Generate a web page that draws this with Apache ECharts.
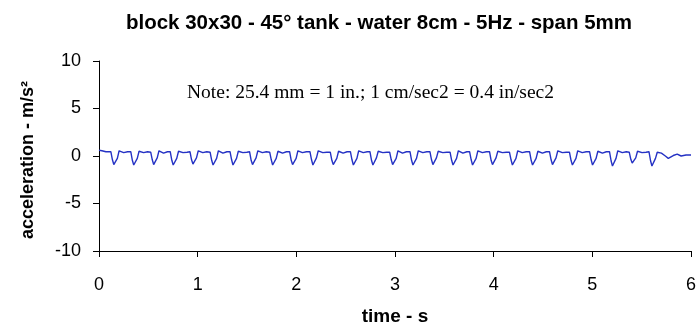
<!DOCTYPE html>
<html>
<head>
<meta charset="utf-8">
<script src="https://cdn.jsdelivr.net/npm/echarts@6/dist/echarts.min.js"></script>
<style>
  html, body { margin: 0; padding: 0; background: #fff; }
  #chart { width: 700px; height: 331px; }
</style>
</head>
<body>
<div id="chart"></div>
<script>
// Chart text
const titleText = 'block 30x30 - 45\u00b0 tank - water 8cm - 5Hz - span 5mm';
const noteText = 'Note: 25.4 mm = 1 in.; 1 cm/sec2 = 0.4 in/sec2';
const xAxisTitle = 'time - s';
const yAxisTitle = 'acceleration - m/s\u00b2';

// Axis ticks
const xTicks = [0, 1, 2, 3, 4, 5, 6];
const yTicks = [-10, -5, 0, 5, 10];

// Measured signal: time (s), one row per oscillation cycle
const time = [
  0.000, 0.030, 0.070,
  0.120, 0.136, 0.150, 0.170, 0.186, 0.204, 0.250, 0.290,
  0.322, 0.338, 0.352, 0.372, 0.388, 0.406, 0.452, 0.492,
  0.524, 0.540, 0.554, 0.574, 0.590, 0.608, 0.654, 0.694,
  0.722, 0.738, 0.752, 0.772, 0.788, 0.806, 0.852, 0.892,
  0.922, 0.938, 0.952, 0.972, 0.988, 1.006, 1.052, 1.092,
  1.126, 1.142, 1.156, 1.176, 1.192, 1.210, 1.256, 1.296,
  1.328, 1.344, 1.358, 1.378, 1.394, 1.412, 1.458, 1.498,
  1.526, 1.542, 1.556, 1.576, 1.592, 1.610, 1.656, 1.696,
  1.730, 1.746, 1.760, 1.780, 1.796, 1.814, 1.860, 1.900,
  1.932, 1.948, 1.962, 1.982, 1.998, 2.016, 2.062, 2.102,
  2.138, 2.154, 2.168, 2.188, 2.204, 2.222, 2.268, 2.308,
  2.344, 2.360, 2.374, 2.394, 2.410, 2.428, 2.474, 2.514,
  2.548, 2.564, 2.578, 2.598, 2.614, 2.632, 2.678, 2.718,
  2.746, 2.762, 2.776, 2.796, 2.812, 2.830, 2.876, 2.916,
  2.946, 2.962, 2.976, 2.996, 3.012, 3.030, 3.076, 3.116,
  3.152, 3.168, 3.182, 3.202, 3.218, 3.236, 3.282, 3.322,
  3.354, 3.370, 3.384, 3.404, 3.420, 3.438, 3.484, 3.524,
  3.558, 3.574, 3.588, 3.608, 3.624, 3.642, 3.688, 3.728,
  3.756, 3.772, 3.786, 3.806, 3.822, 3.840, 3.886, 3.926,
  3.958, 3.974, 3.988, 4.008, 4.024, 4.042, 4.088, 4.128,
  4.160, 4.176, 4.190, 4.210, 4.226, 4.244, 4.290, 4.330,
  4.364, 4.380, 4.394, 4.414, 4.430, 4.448, 4.494, 4.534,
  4.566, 4.582, 4.596, 4.616, 4.632, 4.650, 4.696, 4.736,
  4.768, 4.784, 4.798, 4.818, 4.834, 4.852, 4.898, 4.938,
  4.972, 4.988, 5.002, 5.022, 5.038, 5.056, 5.102, 5.142,
  5.174, 5.190, 5.204, 5.224, 5.240, 5.258, 5.304, 5.344,
  5.374, 5.390, 5.404, 5.424, 5.440, 5.458, 5.504, 5.544,
  5.574, 5.590, 5.604, 5.624, 5.640, 5.658,
  5.700, 5.740, 5.770, 5.820, 5.860, 5.900, 5.950, 6.000
];

// Measured signal: acceleration (m/s²), same rows as time
const accel = [
  0.60, 0.55, 0.45,
  0.45, -0.40, -0.90, -0.90, -0.25, 0.55, 0.35, 0.45,
  0.45, -0.45, -0.95, -0.90, -0.25, 0.50, 0.35, 0.45,
  0.40, -0.40, -0.90, -0.95, -0.20, 0.55, 0.30, 0.45,
  0.45, -0.45, -0.95, -0.90, -0.25, 0.50, 0.35, 0.40,
  0.45, -0.40, -0.85, -0.90, -0.20, 0.55, 0.35, 0.45,
  0.40, -0.45, -0.95, -0.95, -0.25, 0.55, 0.30, 0.45,
  0.45, -0.40, -0.95, -0.90, -0.25, 0.50, 0.35, 0.40,
  0.45, -0.45, -0.90, -0.95, -0.20, 0.55, 0.35, 0.45,
  0.40, -0.40, -0.95, -0.95, -0.25, 0.50, 0.30, 0.45,
  0.45, -0.45, -0.90, -0.90, -0.25, 0.55, 0.35, 0.45,
  0.45, -0.40, -0.95, -0.95, -0.20, 0.55, 0.35, 0.40,
  0.40, -0.45, -0.90, -0.95, -0.25, 0.50, 0.30, 0.45,
  0.45, -0.40, -0.95, -0.90, -0.25, 0.55, 0.35, 0.45,
  0.45, -0.45, -0.95, -0.95, -0.20, 0.50, 0.35, 0.40,
  0.40, -0.40, -0.90, -0.90, -0.25, 0.55, 0.30, 0.45,
  0.45, -0.45, -0.95, -0.95, -0.25, 0.55, 0.35, 0.45,
  0.45, -0.40, -0.90, -0.95, -0.20, 0.50, 0.35, 0.40,
  0.40, -0.45, -0.95, -0.90, -0.25, 0.55, 0.30, 0.45,
  0.45, -0.40, -0.95, -0.95, -0.25, 0.55, 0.35, 0.45,
  0.45, -0.45, -0.90, -0.95, -0.20, 0.50, 0.35, 0.40,
  0.40, -0.40, -0.95, -0.90, -0.25, 0.55, 0.35, 0.45,
  0.45, -0.45, -0.95, -0.95, -0.25, 0.50, 0.30, 0.45,
  0.45, -0.40, -0.90, -0.95, -0.20, 0.55, 0.35, 0.40,
  0.40, -0.45, -0.95, -0.90, -0.25, 0.55, 0.35, 0.45,
  0.45, -0.40, -0.95, -0.95, -0.25, 0.50, 0.30, 0.45,
  0.45, -0.50, -1.05, -1.05, -0.25, 0.55, 0.35, 0.45,
  0.40, -0.35, -0.75, -0.75, -0.20, 0.50, 0.35, 0.40,
  0.45, -0.50, -1.05, -1.05, -0.25, 0.40,
  0.30, 0.00, -0.25, 0.05, 0.20, 0.00, 0.10, 0.10
];

const seriesData = time.map((t, i) => [t, accel[i]]);

const baseFont = 'Liberation Sans, Arial, sans-serif';

const chart = echarts.init(document.getElementById('chart'), null, { renderer: 'canvas' });

chart.setOption({
  backgroundColor: '#ffffff',
  animation: false,
  title: {
    text: titleText,
    left: 374,
    top: 8,
    textAlign: 'center',
    textStyle: { fontFamily: baseFont, fontSize: 20.5, fontWeight: 'bold', color: '#000' }
  },
  grid: { left: 99, right: 9, top: 61, bottom: 66, containLabel: false },
  xAxis: {
    type: 'value',
    min: xTicks[0],
    max: xTicks[xTicks.length - 1],
    interval: 1,
    name: xAxisTitle,
    nameLocation: 'middle',
    nameGap: 56,
    nameTextStyle: { fontFamily: baseFont, fontSize: 19, fontWeight: 'bold', color: '#000' },
    axisLine: { show: true, onZero: false, lineStyle: { color: '#000', width: 1 } },
    axisTick: { show: true, inside: false, length: 6, lineStyle: { color: '#000' } },
    axisLabel: { fontFamily: baseFont, fontSize: 18, color: '#000', margin: 25 },
    splitLine: { show: false }
  },
  yAxis: {
    type: 'value',
    min: yTicks[0],
    max: yTicks[yTicks.length - 1],
    interval: 5,
    axisLine: { show: true, onZero: false, lineStyle: { color: '#000', width: 1 } },
    axisTick: { show: true, inside: false, length: 6, lineStyle: { color: '#000' } },
    axisLabel: { fontFamily: baseFont, fontSize: 18, color: '#000', margin: 18 },
    splitLine: { show: false }
  },
  graphic: [{
    type: 'text',
    x: 28,
    y: 160,
    rotation: Math.PI / 2,
    style: {
      text: yAxisTitle,
      font: 'bold 18px Liberation Sans, Arial, sans-serif',
      fill: '#000',
      align: 'center',
      verticalAlign: 'middle'
    }
  }, {
    type: 'text',
    left: 187,
    top: 83,
    style: { text: noteText, font: '19.5px "Liberation Serif", "Times New Roman", serif', fill: '#000' }
  }],
  series: [{
    type: 'line',
    data: seriesData,
    showSymbol: false,
    smooth: false,
    lineStyle: { color: '#2532c4', width: 1.4 },
    itemStyle: { color: '#2532c4' }
  }]
});
</script>
</body>
</html>
